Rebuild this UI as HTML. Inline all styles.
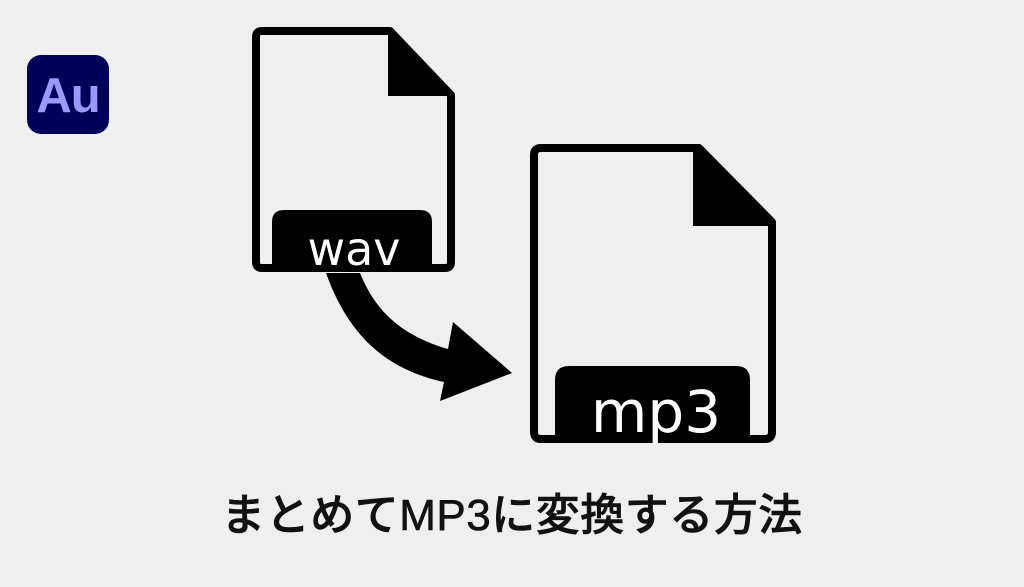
<!DOCTYPE html>
<html><head><meta charset="utf-8"><style>
html,body{margin:0;padding:0;background:#efefef;}
body{width:1024px;height:587px;overflow:hidden;position:relative;}
.logo{position:absolute;left:27px;top:55px;width:82px;height:79px;background:#00005b;border-radius:14px;}
.logo span{position:absolute;left:0;right:0;top:17px;text-align:center;font:bold 49px/49px "Liberation Sans",sans-serif;color:#9999ff;letter-spacing:-1px;}
.title{position:absolute;left:0;right:0;top:488px;text-align:center;font:500 44px/56px "Liberation Sans","Noto Sans CJK JP",sans-serif;color:#111;letter-spacing:0.5px;-webkit-text-stroke:0.6px #111;}
svg{position:absolute;left:0;top:0;}
</style></head><body>
<div class="logo"><span>Au</span></div>
<svg width="1024" height="587" viewBox="0 0 1024 587">
 <path d="M262,31 H390 L451,95 V262 Q451,268 445,268 H262 Q256,268 256,262 V37 Q256,31 262,31 Z" fill="none" stroke="#000" stroke-width="8" stroke-linejoin="round"/>
 <polygon points="388,27 455,96 388,96" fill="#000"/>
 <path d="M272,272 V222 Q272,210 284,210 H420 Q432,210 432,222 V272 Z" fill="#000"/>
 <text x="354" y="265" text-anchor="middle" font-family="DejaVu Sans, sans-serif" font-size="46" fill="#fff">wav</text>
 <path d="M541,148 H699 L772,222 V432 Q772,439 765,439 H541 Q534,439 534,432 V155 Q534,148 541,148 Z" fill="none" stroke="#000" stroke-width="8" stroke-linejoin="round"/>
 <polygon points="693,144 776,226 693,226" fill="#000"/>
 <path d="M555,443 V380 Q555,366 569,366 H736 Q750,366 750,380 V443 Z" fill="#000"/>
 <text x="656" y="432" text-anchor="middle" font-family="DejaVu Sans, sans-serif" font-size="58" fill="#fff">mp3</text>
 <path d="M326,273 C350,340 390,370 444,382 L440,401 L512,373 L453,322 L448,349 C400,335 375,310 360,273 Z" fill="#000"/>
</svg>
<div class="title">まとめてMP3に変換する方法</div>
</body></html>
